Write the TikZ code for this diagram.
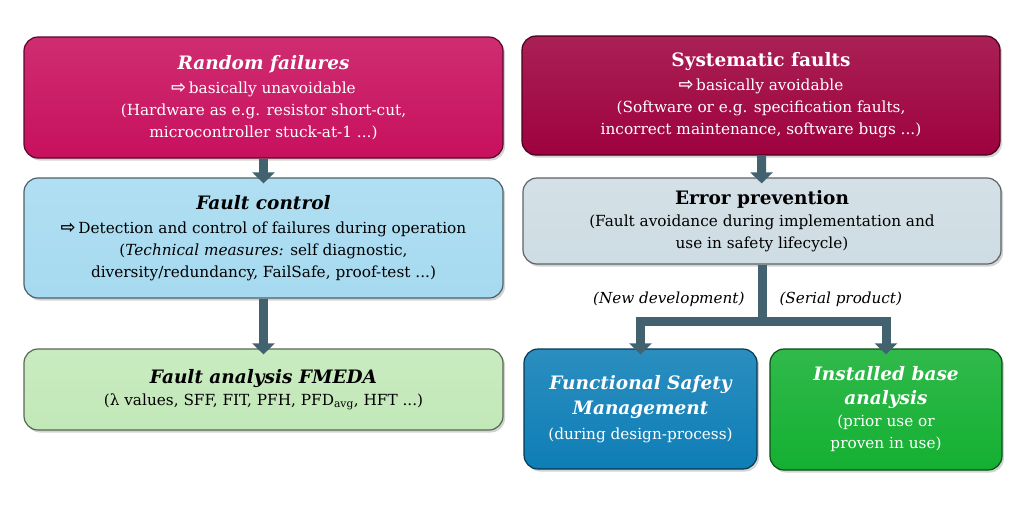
\documentclass[tikz,border=0pt]{standalone}
\usepackage{fontspec}
\setmainfont{DejaVu Serif}
\newfontfamily\arrowfont{DejaVu Sans}
\usetikzlibrary{arrows.meta,shadows}
\definecolor{randred}{RGB}{200,16,94}
\definecolor{systred}{RGB}{158,2,62}
\definecolor{ctrlblue}{RGB}{166,218,240}
\definecolor{prevgray}{RGB}{206,220,227}
\definecolor{anagreen}{RGB}{194,232,184}
\definecolor{fsmblue}{RGB}{14,126,182}
\definecolor{basegreen}{RGB}{20,176,50}
\definecolor{connslate}{RGB}{66,98,112}
\newcommand{\impl}{{\arrowfont\bfseries\fontsize{18}{22}\selectfont ⇨}\,}
\newcommand{\ttl}[1]{{\fontsize{18.5}{24}\selectfont\bfseries #1}}
\tikzset{
  box/.style={draw=#1!45!black, line width=1.2pt, rounded corners=14pt,
    top color=#1!88!white, bottom color=#1, align=center, inner sep=0pt,
    drop shadow={shadow xshift=2pt, shadow yshift=-2.5pt, opacity=0.35},
    font=\fontsize{15.3}{22}\selectfont},
  trunk/.style={draw=connslate, line width=9pt},
  arrowline/.style={trunk, -{Triangle[width=22pt,length=11pt]}, shorten >=-6pt},
  lbl/.style={font=\fontsize{15.2}{18}\selectfont\itshape}
}
\begin{document}
\begin{tikzpicture}[x=1pt,y=-1pt]
\useasboundingbox (0,0) rectangle (1024,512);
% left column
\node[box=randred, text=white, minimum width=479pt, minimum height=121pt] (rand) at (263.5,97.5)
  {\ttl{\itshape Random failures}\\[2pt] \impl basically unavoidable\\ (Hardware as e.g. resistor short-cut,\\ microcontroller stuck-at-1 ...)};
\node[box=ctrlblue, minimum width=479pt, minimum height=120pt] (fctrl) at (263.5,238)
  {\ttl{\itshape Fault control}\\[2pt] \impl Detection and control of failures during operation\\ (\textit{Technical measures:} self diagnostic,\\ diversity/redundancy, FailSafe, proof-test ...)};
\node[box=anagreen, minimum width=479pt, minimum height=81pt] (fmeda) at (263.5,389.5)
  {\ttl{\itshape Fault analysis FMEDA}\\ (λ values, SFF, FIT, PFH, PFD\textsubscript{avg}, HFT ...)};
% right column
\node[box=systred, text=white, minimum width=478pt, minimum height=119pt] (syst) at (761,95.5)
  {\ttl{Systematic faults}\\[2pt] \impl basically avoidable\\ (Software or e.g. specification faults,\\ incorrect maintenance, software bugs ...)};
\node[box=prevgray, minimum width=478pt, minimum height=86pt] (eprev) at (762,221)
  {\ttl{Error prevention}\\ (Fault avoidance during implementation and\\ use in safety lifecycle)};
\node[box=fsmblue, text=white, minimum width=233pt, minimum height=120pt] (fsm) at (640.5,409)
  {\ttl{\itshape Functional Safety}\\[3pt] \ttl{\itshape Management}\\[3pt] (during design-process)};
\node[box=basegreen, text=white, minimum width=232pt, minimum height=121pt] (ibase) at (886,409.5)
  {\ttl{\itshape Installed base}\\[2pt] \ttl{\itshape analysis}\\ (prior use or\\ proven in use)};
% connectors
\draw[arrowline] (rand) -- (fctrl);
\draw[arrowline] (fctrl) -- (fmeda);
\draw[arrowline] (syst) -- (eprev);
\coordinate (split) at (762,321);
\draw[trunk] (eprev.south) -- ([yshift=-4.5pt]split);
\draw[arrowline] (split) -| (fsm);
\draw[arrowline] (split) -| (ibase);
\node[lbl, anchor=east] (newdev) at (748,299) {(New development)};
\node[lbl, anchor=west] (serial) at (776,299) {(Serial product)};
\end{tikzpicture}
\end{document}
